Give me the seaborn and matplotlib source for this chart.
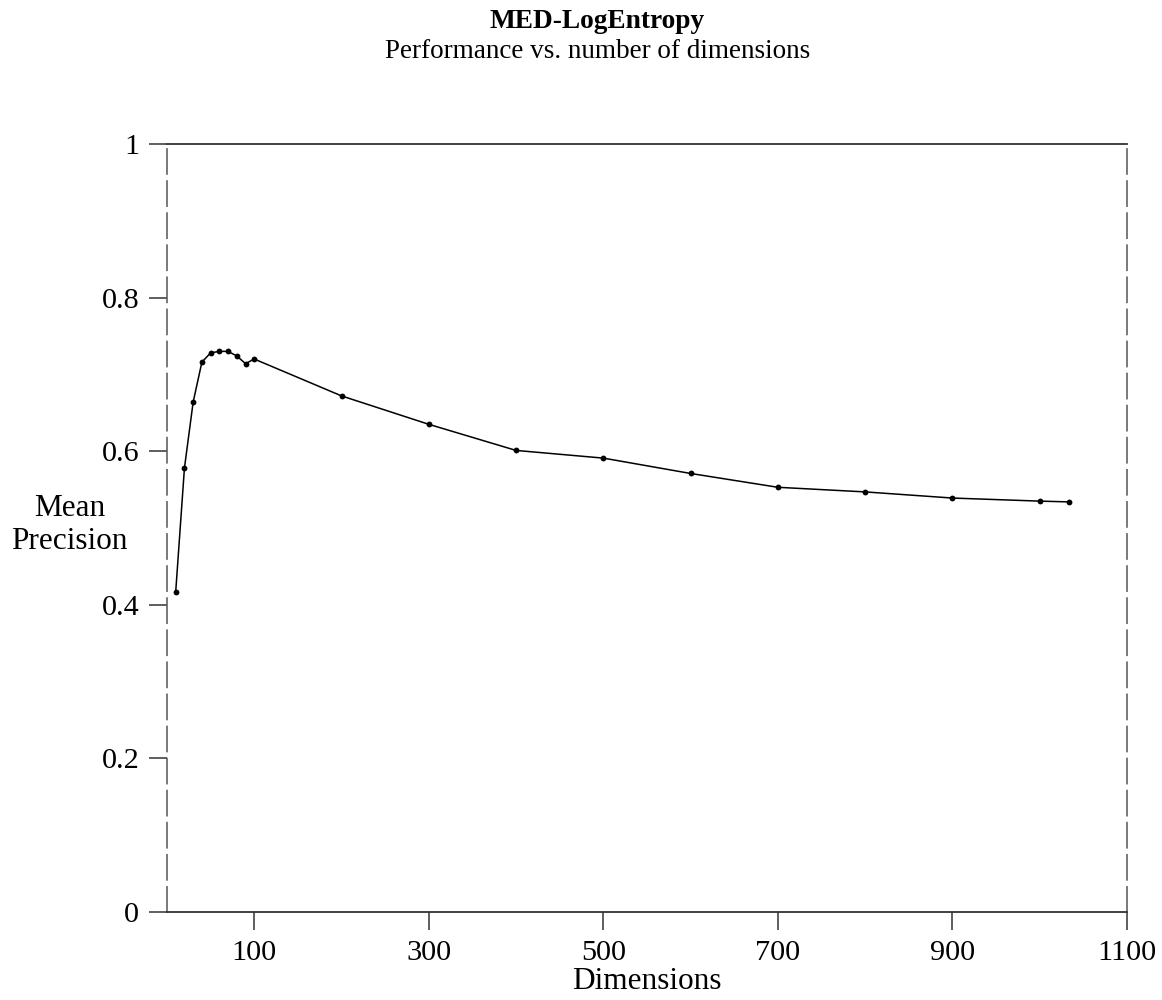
import matplotlib
matplotlib.use("Agg")
import matplotlib.pyplot as plt
import seaborn as sns
import pandas as pd

# Mean precision of MED-LogEntropy for each number of dimensions
dimensions = [10, 20, 30, 40, 50, 60, 70, 80, 90, 100,
              200, 300, 400, 500, 600, 700, 800, 900, 1000, 1033]
precision = [0.417, 0.578, 0.664, 0.716, 0.728, 0.730, 0.730, 0.724, 0.714, 0.720,
             0.672, 0.635, 0.601, 0.591, 0.571, 0.553, 0.547, 0.539, 0.535, 0.534]

x_ticks = [100, 300, 500, 700, 900, 1100]
y_ticks = [0, 0.2, 0.4, 0.6, 0.8, 1]
y_tick_labels = ["0", "0.2", "0.4", "0.6", "0.8", "1"]

sns.set_style("white")
plt.rcParams['font.family'] = ['Liberation Serif', 'DejaVu Serif']
plt.rcParams['text.color'] = 'black'
plt.rcParams['axes.labelcolor'] = 'black'
plt.rcParams['xtick.color'] = 'black'
plt.rcParams['ytick.color'] = 'black'

df = pd.DataFrame({'Dimensions': dimensions, 'Precision': precision})

fig = plt.figure(figsize=(11.62, 10), dpi=100)
ax = fig.add_axes([0.1437, 0.088, 0.8262, 0.768])

sns.lineplot(data=df, x='Dimensions', y='Precision', ax=ax,
             color='black', linewidth=1.1, marker='o', markersize=4.2,
             markeredgewidth=0, markerfacecolor='black')

ax.set_xlim(0, 1100)
ax.set_ylim(0, 1)
ax.set_xticks(x_ticks)
ax.set_xticklabels([str(t) for t in x_ticks])
ax.set_yticks(y_ticks)
ax.set_yticklabels(y_tick_labels)

# ── Frame: solid top/bottom, dashed sides ─────────────────────────────────
for side in ['top', 'bottom']:
    ax.spines[side].set_color('#333333')
    ax.spines[side].set_linewidth(1.3)
for side in ['left', 'right']:
    ax.spines[side].set_color('#555555')
    ax.spines[side].set_linewidth(1.1)
    ax.spines[side].set_linestyle((0, (16.5, 4.5)))

ax.tick_params(axis='both', direction='out', length=13, width=1.1,
               color='#333333', labelcolor='black', labelsize=21.8, pad=7)
ax.tick_params(axis='x', top=False, bottom=True)
ax.tick_params(axis='y', left=True, right=False)

ax.set_xlabel('Dimensions', fontsize=22.5, labelpad=1, color='black')
ax.set_ylabel('')

fig.text(0.060, 0.475, 'Mean\nPrecision', ha='center', va='center',
         fontsize=22.5, linespacing=1.15, color='black')

fig.text(0.514, 0.978, 'MED-LogEntropy', ha='center', va='center',
         fontsize=19.7, fontweight='bold', color='black')
fig.text(0.514, 0.948, 'Performance vs. number of dimensions', ha='center',
         va='center', fontsize=19.5, color='black')

fig.savefig('out.png', dpi=100)
